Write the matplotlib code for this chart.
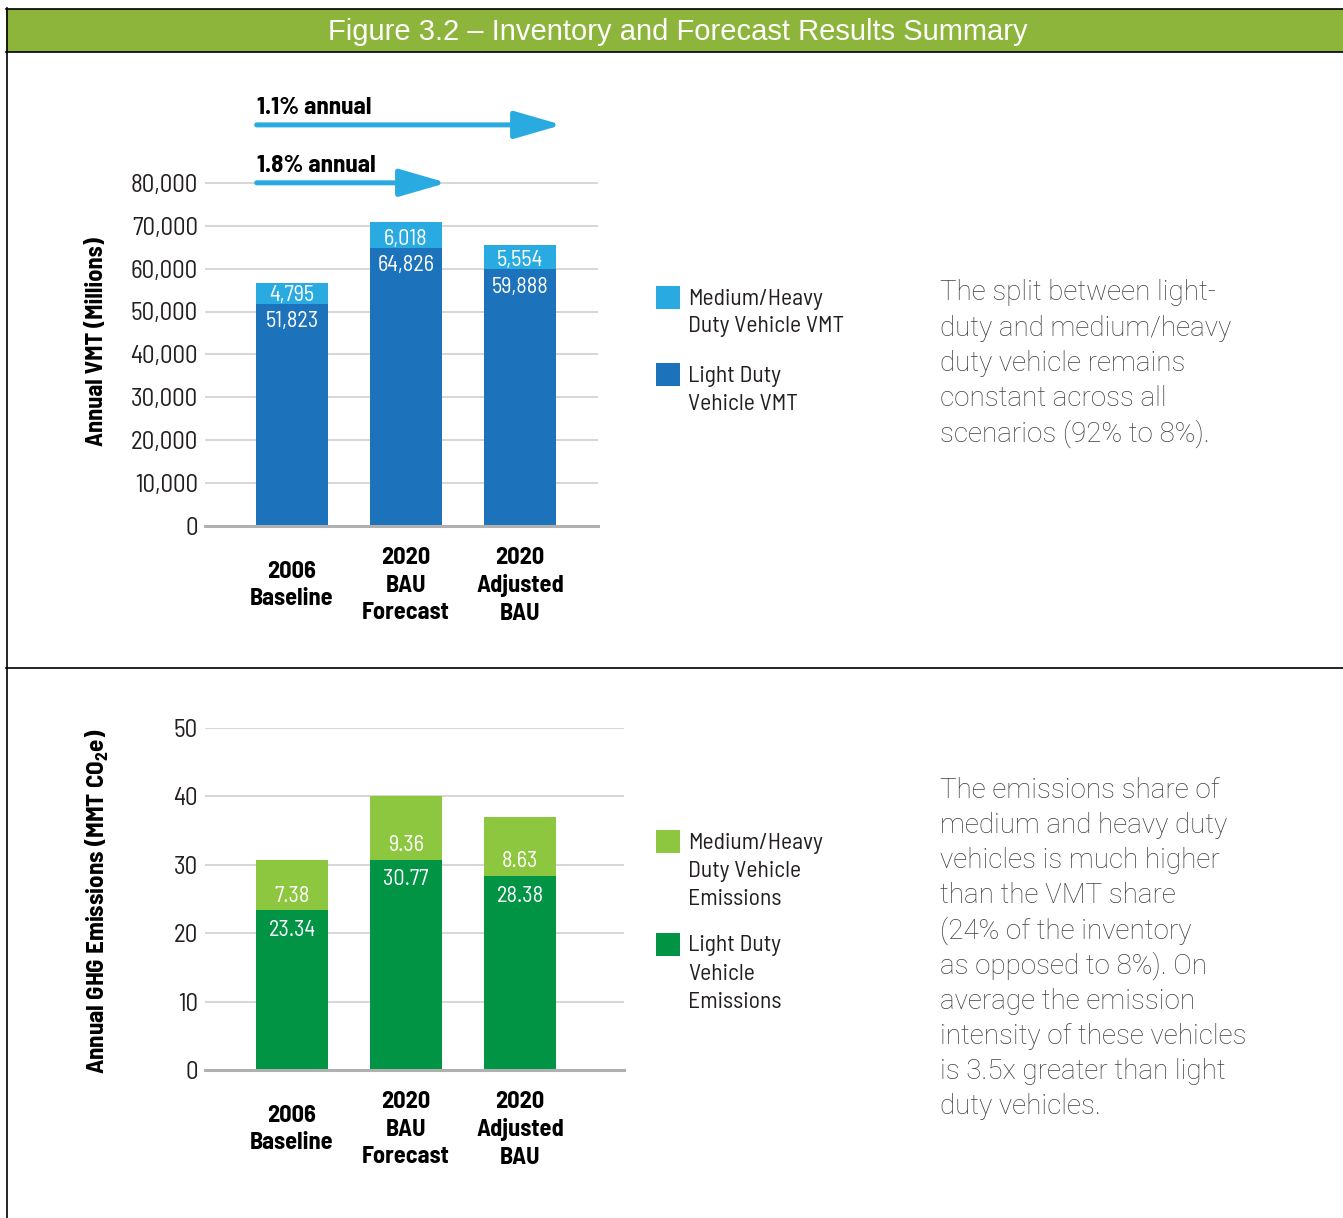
import matplotlib
matplotlib.use('Agg')
import matplotlib.pyplot as plt
from matplotlib.patches import Rectangle
from matplotlib.lines import Line2D
from matplotlib import font_manager

# ---------------- data ----------------
categories = ["2006\nBaseline", "2020\nBAU\nForecast", "2020\nAdjusted\nBAU"]
vmt_light = [51823, 64826, 59888]
vmt_medium = [4795, 6018, 5554]
ghg_light = [23.34, 30.77, 28.38]
ghg_medium = [7.38, 9.36, 8.63]
vmt_ticks = [0, 10000, 20000, 30000, 40000, 50000, 60000, 70000, 80000]
ghg_ticks = [0, 10, 20, 30, 40, 50]
growth_labels = ["1.1% annual", "1.8% annual"]
growth_arrow_ends = [2.367, 1.358]        # category index reached by each arrow
growth_arrow_levels = [93500, 80000]
vmt_legend = ["Medium/Heavy\nDuty Vehicle VMT", "Light Duty\nVehicle VMT"]
ghg_legend = ["Medium/Heavy\nDuty Vehicle\nEmissions", "Light Duty\nVehicle\nEmissions"]
title = "Figure 3.2 \u2013 Inventory and Forecast Results Summary"
vmt_note = ["The split between light-", "duty and medium/heavy", "duty vehicle remains",
            "constant across all", "scenarios (92% to 8%)."]
ghg_note = ["The emissions share of", "medium and heavy duty", "vehicles is much higher",
            "than the VMT share", "(24% of the inventory", "as opposed to 8%). On",
            "average the emission", "intensity of these vehicles", "is 3.5x greater than light",
            "duty vehicles."]

# ---------------- fonts ----------------
names = {f.name for f in font_manager.fontManager.ttflist}
COND = 'Barlow Semi Condensed' if 'Barlow Semi Condensed' in names else 'DejaVu Sans'
LIGHT = 'Roboto' if 'Roboto' in names else 'DejaVu Sans'
REG = 'Liberation Sans' if 'Liberation Sans' in names else 'DejaVu Sans'

C_MH_VMT = '#29abe2'
C_LD_VMT = '#1c72bb'
C_MH_GHG = '#8dc63f'
C_LD_GHG = '#009444'
C_TITLE = '#8db53c'
C_TXT = '#231f20'
C_GRID = '#cccccc'
C_BASE = '#b0b0b0'

W, H = 1343, 1218
fig = plt.figure(figsize=(W / 100, H / 100), dpi=100)
fig.patch.set_facecolor('white')

def fx(x):
    return x / W

def fy(y):
    return 1 - y / H

# ---------------- frame ----------------
fig.add_artist(Rectangle((fx(6), fy(52)), fx(1343) - fx(6), fy(9) - fy(52),
                         transform=fig.transFigure, facecolor=C_TITLE, edgecolor='none'))
for (x0, y0, x1, y1) in [(6, 8.5, 1343, 8.5), (6, 52, 1343, 52), (6, 667.5, 1343, 667.5),
                         (6.5, 8, 6.5, 1218)]:
    fig.add_artist(Line2D([fx(x0), fx(x1)], [fy(y0), fy(y1)], transform=fig.transFigure,
                          color='black', lw=1.2))
fig.text(fx(678), fy(32), title, color='white', fontsize=21, family=REG,
         ha='center', va='center')

x = list(range(len(categories)))
BW = 0.635

def style_axes(ax, ticks, fmt):
    for s in ['top', 'right', 'left']:
        ax.spines[s].set_visible(False)
    ax.spines['bottom'].set_color(C_BASE)
    ax.spines['bottom'].set_linewidth(2.2)
    ax.spines['bottom'].set_zorder(4)
    ax.set_yticks(ticks)
    ax.set_yticklabels([fmt(t) for t in ticks], fontsize=18, family=COND, color=C_TXT)
    ax.tick_params(axis='y', length=0, pad=5)
    ax.yaxis.grid(True, color=C_GRID, lw=1.1)
    ax.set_axisbelow(True)
    ax.set_xticks(x)
    ax.set_xticklabels(categories, fontsize=17.5, family=COND, fontweight='bold',
                       color='black', va='center', linespacing=1.32)
    ax.tick_params(axis='x', length=0, pad=43)

# ---------------- top chart ----------------
ax1 = fig.add_axes([fx(205), fy(526), fx(598) - fx(205), fy(97) - fy(526)])
ax1.bar(x, vmt_light, BW, color=C_LD_VMT, zorder=3)
ax1.bar(x, vmt_medium, BW, bottom=vmt_light, color=C_MH_VMT, zorder=3)
ax1.set_xlim(-0.763, 2.684)
ax1.set_ylim(0, 100000)
style_axes(ax1, vmt_ticks, lambda t: f"{t:,}")
for xi, lv, mv in zip(x, vmt_light, vmt_medium):
    ax1.annotate(f"{lv:,}", (xi, lv), xytext=(0, -13), textcoords='offset points',
                 ha='center', va='center', color='white', fontsize=16, family=COND, zorder=5)
    ax1.annotate(f"{mv:,}", (xi, lv), xytext=(0, 6), textcoords='offset points',
                 ha='center', va='center', color='white', fontsize=16, family=COND, zorder=5)
for lab, xe, yl in zip(growth_labels, growth_arrow_ends, growth_arrow_levels):
    ax1.annotate("", xy=(xe, yl), xytext=(-0.31, yl), annotation_clip=False,
                 arrowprops=dict(arrowstyle='-|>,head_length=1.45,head_width=0.42',
                                 mutation_scale=20, color=C_MH_VMT, lw=3.6,
                                 shrinkA=0, shrinkB=0, capstyle='round'))
    ax1.annotate(lab, (-0.307, yl), xytext=(0, 12), textcoords='offset points',
                 ha='left', va='center', fontsize=18, family=COND, fontweight='bold',
                 color='black', annotation_clip=False)
fig.text(fx(97), fy(342), "Annual VMT (Millions)", rotation=90, ha='center', va='center',
         fontsize=17.5, family=COND, fontweight='bold', color='black')

# ---------------- bottom chart ----------------
ax2 = fig.add_axes([fx(205), fy(1070), fx(624) - fx(205), fy(728) - fy(1070)])
ax2.bar(x, ghg_light, BW, color=C_LD_GHG, zorder=3)
ax2.bar(x, ghg_medium, BW, bottom=ghg_light, color=C_MH_GHG, zorder=3)
ax2.set_xlim(-0.763, 2.91)
ax2.set_ylim(0, 50)
style_axes(ax2, ghg_ticks, lambda t: f"{t}")
for xi, lv, mv in zip(x, ghg_light, ghg_medium):
    ax2.annotate(f"{lv:.2f}", (xi, lv), xytext=(0, -14.5), textcoords='offset points',
                 ha='center', va='center', color='white', fontsize=16, family=COND, zorder=5)
    ax2.annotate(f"{mv:.2f}", (xi, lv), xytext=(0, 10.1), textcoords='offset points',
                 ha='center', va='center', color='white', fontsize=16, family=COND, zorder=5)
fig.text(fx(97), fy(901), r"Annual GHG Emissions (MMT CO$_\mathregular{2}$e)", rotation=90,
         ha='center', va='center', fontsize=18, family=COND, fontweight='bold', color='black')

# ---------------- legends ----------------
def legend_block(labels, colors, tops, step):
    for lab, col, top in zip(labels, colors, tops):
        fig.add_artist(Rectangle((fx(656), fy(top + 23)), fx(680) - fx(656), fy(top) - fy(top + 23),
                                 transform=fig.transFigure, facecolor=col, edgecolor='none'))
        for i, line in enumerate(lab.split("\n")):
            fig.text(fx(688), fy(top + 13 + step * i), line, ha='left', va='center',
                     fontsize=17, family=COND, color=C_TXT)

legend_block(vmt_legend, [C_MH_VMT, C_LD_VMT], [286, 363], 28)
legend_block(ghg_legend, [C_MH_GHG, C_LD_GHG], [830, 933], 28.3)

# ---------------- notes ----------------
def note(lines, y0, step):
    for i, line in enumerate(lines):
        fig.text(fx(940), fy(y0 + step * i), line, ha='left', va='center', fontsize=20,
                 family=LIGHT, fontweight='light', color='#404042')

note(vmt_note, 293, 35.3)
note(ghg_note, 790, 35.2)

fig.savefig('out.png', dpi=100, facecolor='white')
